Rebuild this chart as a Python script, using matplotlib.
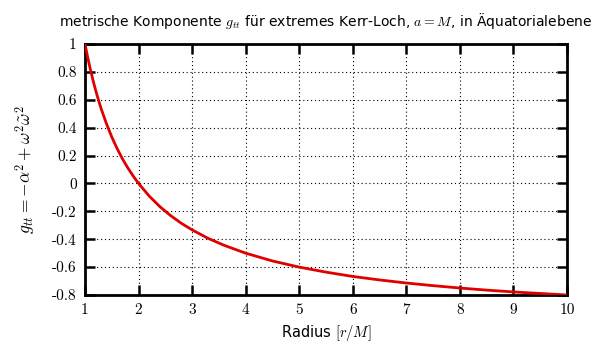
import matplotlib
matplotlib.use("Agg")
import matplotlib.pyplot as plt

plt.rcParams["mathtext.fontset"] = "cm"

# values
radius = [1.0, 1.05, 1.1, 1.15, 1.2, 1.25, 1.3, 1.4, 1.5, 1.6, 1.7, 1.8, 1.9, 2.0,
          2.2, 2.4, 2.6, 2.8, 3.0, 3.3, 3.6, 4.0, 4.5, 5.0, 5.5, 6.0, 6.5, 7.0,
          7.5, 8.0, 8.5, 9.0, 9.5, 10.0]
g_tt = [1.0, 0.905, 0.818, 0.739, 0.667, 0.6, 0.538, 0.429, 0.333, 0.25, 0.176,
        0.111, 0.053, 0.0, -0.091, -0.167, -0.231, -0.286, -0.333, -0.394, -0.444,
        -0.5, -0.556, -0.6, -0.636, -0.667, -0.692, -0.714, -0.733, -0.75, -0.765,
        -0.778, -0.789, -0.8]
xticks = [1, 2, 3, 4, 5, 6, 7, 8, 9, 10]
yticks = [1, 0.8, 0.6, 0.4, 0.2, 0, -0.2, -0.4, -0.6, -0.8]
ytick_labels = ["1", "0.8", "0.6", "0.4", "0.2", "0", "-0.2", "-0.4", "-0.6", "-0.8"]

fig = plt.figure(figsize=(6, 3.52), dpi=100)
ax = fig.add_axes([85 / 600, 1 - 295 / 352, 482 / 600, 251 / 352])
ax.plot(radius, g_tt, color="#e00000", lw=2, zorder=3)
ax.set_xlim(1, 10); ax.set_ylim(-0.8, 1)
ax.set_xticks(xticks); ax.set_xticklabels([str(t) for t in xticks])
ax.set_yticks(yticks); ax.set_yticklabels(ytick_labels)
for lab in ax.get_xticklabels() + ax.get_yticklabels():
    lab.set_fontfamily("cmr10"); lab.set_fontsize(11)
ax.tick_params(direction="in", length=7, width=1.8, top=True, right=True, pad=6)
ax.grid(True, color="black", linestyle=(0, (1, 2.5)), linewidth=0.8)
for s in ax.spines.values():
    s.set_linewidth(2)

ax.set_xlabel(r"Radius $[r/M]$", fontsize=10.5, labelpad=4)
ax.set_ylabel(r"$g_{tt} = -\alpha^2 + \omega^2\tilde{\omega}^2$", fontsize=12.5, labelpad=10)
ax.set_title(r"metrische Komponente $g_{tt}$ für extremes Kerr-Loch, $a = M$, in Äquatorialebene",
             fontsize=10, pad=13)

fig.savefig("out.png", dpi=100)
